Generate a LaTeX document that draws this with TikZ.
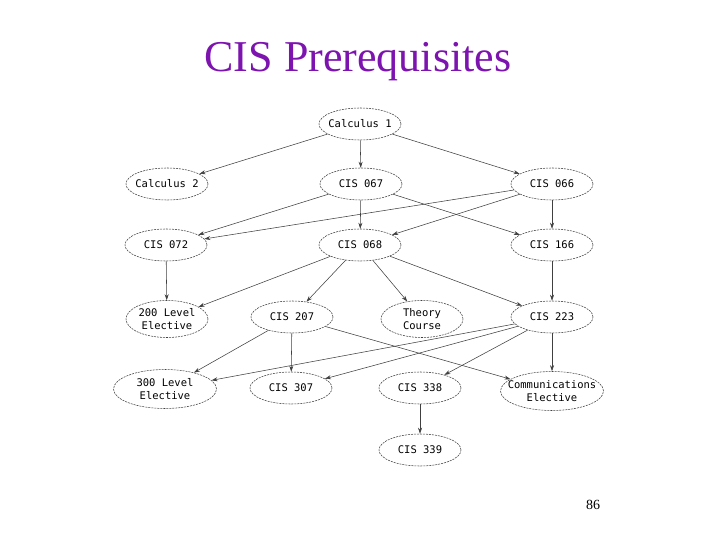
\documentclass[tikz,border=0pt]{standalone}
\usepackage{fontspec}
\setmainfont{Liberation Serif}
\newfontfamily\nodefont{DejaVu Sans Mono}
\usetikzlibrary{shapes.geometric,arrows.meta}
\definecolor{titlepurple}{RGB}{125,20,175}
\tikzset{
  course/.style={ellipse, draw=black!75, dash pattern=on 2pt off 1pt, line width=0.55pt,
    minimum width=82pt, minimum height=32pt, inner ysep=0pt, inner xsep=-6pt, align=center,
    font=\nodefont\fontsize{10.5}{13}\selectfont},
  wide/.style={course, minimum width=103pt, minimum height=39pt},
  tall/.style={course, minimum height=37pt},
  edge/.style={draw=black!75, line width=0.55pt, -{Stealth[length=6pt,width=4pt]}}
}
\begin{document}
\begin{tikzpicture}[x=1pt,y=-1pt]
\useasboundingbox (0,0) rectangle (720,540);
\node[text=titlepurple, font=\fontsize{44}{50}\selectfont] (title) at (358,62) {CIS Prerequisites};
\node[font=\fontsize{14}{16}\selectfont] (page) at (593,505) {86};

\node[course] (calc1) at (360,124) {Calculus 1};
\node[course] (calc2) at (167,184) {Calculus 2};
\node[course] (c067) at (361,184) {CIS 067};
\node[course] (c066) at (552,184) {CIS 066};
\node[course] (c072) at (166,245) {CIS 072};
\node[course] (c068) at (360,245) {CIS 068};
\node[course] (c166) at (552,245) {CIS 166};
\node[tall] (l200) at (167,319) {200 Level\\Elective};
\node[course] (c207) at (292,317) {CIS 207};
\node[tall] (theory) at (422,319) {Theory\\Course};
\node[course] (c223) at (552,317) {CIS 223};
\node[wide] (l300) at (165,389) {\makebox[50pt]{300 Level}\\\makebox[50pt]{Elective}};
\node[course] (c307) at (291,388) {CIS 307};
\node[course] (c338) at (420,388) {CIS 338};
\node[wide] (comm) at (552,391) {\makebox[50pt]{Communications}\\\makebox[50pt]{Elective}};
\node[course] (c339) at (420,450) {CIS 339};

\draw[edge] (calc1) -- (calc2);
\draw[edge] (calc1) -- (c067);
\draw[edge] (calc1) -- (c066);
\draw[edge] (c067) -- (c072);
\draw[edge] (c067) -- (c068);
\draw[edge] (c067) -- (c166);
\draw[edge] (c066) -- (c072);
\draw[edge] (c066) -- (c068);
\draw[edge] (c066) -- (c166);
\draw[edge] (c072) -- (l200);
\draw[edge] (c068) -- (l200);
\draw[edge] (c068) -- (c207);
\draw[edge] (c068) -- (theory);
\draw[edge] (c068) -- (c223);
\draw[edge] (c166) -- (c223);
\draw[edge] (c207) -- (l300);
\draw[edge] (c207) -- (c307);
\draw[edge] (c207) -- (comm);
\draw[edge] (c223) -- (l300);
\draw[edge] (c223) -- (c307);
\draw[edge] (c223) -- (c338);
\draw[edge] (c223) -- (comm);
\draw[edge] (c338) -- (c339);
\end{tikzpicture}
\end{document}
